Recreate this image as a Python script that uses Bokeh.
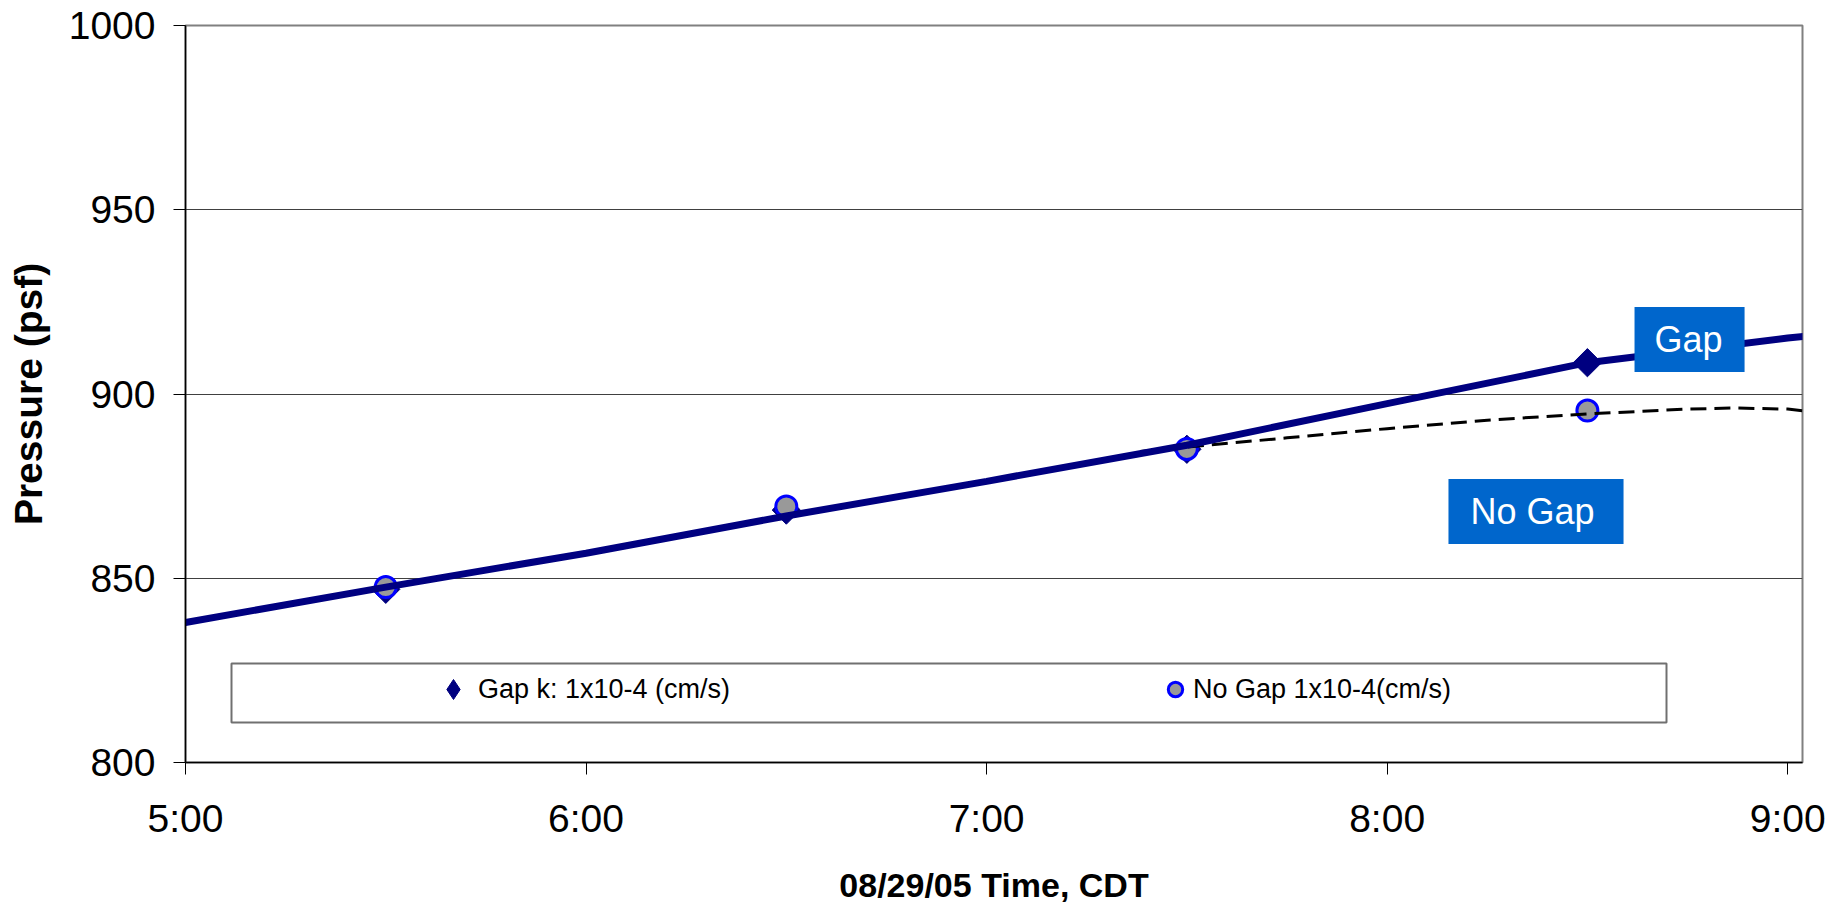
import numpy as np
from bokeh.plotting import figure
from bokeh.models import (FixedTicker, Legend, LegendItem, BoxAnnotation, Label, Range1d)
from bokeh.embed import file_html
from bokeh.resources import INLINE

# ---------------- data ----------------
x_tick_labels = ["5:00", "6:00", "7:00", "8:00", "9:00"]
y_ticks = [800, 850, 900, 950, 1000]

marker_times = ["5:30", "6:30", "7:30", "8:30"]
gap_values = [847.0, 868.5, 885.0, 908.5]          # Gap k: 1x10-4 (cm/s)
nogap_values = [847.6, 869.5, 885.1, 895.5]        # No Gap 1x10-4(cm/s)

gap_curve_times = ["5:00", "5:30", "6:00", "6:30", "7:00", "7:30", "8:00", "8:30", "9:00", "9:02.4"]
gap_curve_values = [838.0, 847.6, 856.8, 866.9, 876.3, 886.1, 897.4, 908.5, 915.2, 915.6]

nogap_curve_times = ["7:23", "7:30", "7:45", "8:00", "8:15", "8:30", "8:45", "8:52", "9:00", "9:02.4"]
nogap_curve_values = [884.4, 885.6, 888.1, 890.6, 892.9, 894.6, 895.9, 896.2, 895.9, 895.4]

series_names = ["Gap k: 1x10-4 (cm/s)", "No Gap 1x10-4(cm/s)"]
callouts = [("Gap", "8:45.3", 914.8), ("No Gap", "8:22.3", 868.1)]
x_title = "08/29/05 Time, CDT"
y_title = "Pressure (psf)"


def hours(t):
    h, m = t.split(":")
    return int(h) + float(m) / 60.0


mx = [hours(t) for t in marker_times]
gx = [hours(t) for t in gap_curve_times]
nx = [hours(t) for t in nogap_curve_times]
xt = [hours(t) for t in x_tick_labels]

FONT = "Liberation Sans"
NAVY = "#000080"

p = figure(width=1840, height=906, output_backend="svg", toolbar_location=None,
           x_range=Range1d(5, 9.037), y_range=Range1d(800, 1000),
           min_border_left=185, min_border_right=38, min_border_top=25, min_border_bottom=142)
p.background_fill_color = "white"
p.border_fill_color = "white"
p.outline_line_color = "#808080"
p.outline_line_width = 2

# axes
p.xaxis.ticker = FixedTicker(ticks=xt)
p.xaxis.major_label_overrides = {int(v): lab for v, lab in zip(xt, x_tick_labels)}
p.yaxis.ticker = FixedTicker(ticks=y_ticks)
for ax in (p.xaxis[0], p.yaxis[0]):
    ax.major_label_text_font = FONT
    ax.major_label_text_font_size = "39px"
    ax.major_label_text_color = "black"
    ax.major_tick_out = 12
    ax.major_tick_in = 0
    ax.minor_tick_out = 0
    ax.minor_tick_in = 0
    ax.major_tick_line_color = "black"
    ax.axis_line_color = "black"
    ax.axis_line_width = 1.5
    ax.axis_label_text_font = FONT
    ax.axis_label_text_font_style = "bold"
    ax.axis_label_text_color = "black"
p.yaxis.major_label_standoff = 18
p.xaxis.major_label_standoff = 22
p.yaxis.axis_label = y_title
p.yaxis.axis_label_text_font_size = "39px"
p.yaxis.axis_label_standoff = 16
p.xaxis.axis_label = x_title
p.xaxis.axis_label_text_font_size = "34px"
p.xaxis.axis_label_standoff = 23

p.xgrid.visible = False
p.ygrid.ticker = FixedTicker(ticks=y_ticks[1:-1])
p.ygrid.grid_line_color = "#404040"
p.ygrid.grid_line_width = 1

# glyphs (order: diamonds, circles, dashed, thick line)
gap_pts = p.scatter(mx, gap_values, marker="square", angle=np.pi / 4, size=20,
                    fill_color=NAVY, line_color=NAVY)
nogap_pts = p.scatter(mx, nogap_values, marker="circle", size=21,
                      fill_color="#999999", line_color="#0000FF", line_width=3)
p.line(nx, nogap_curve_values, line_color="black", line_width=3, line_dash="16 8")
p.line(gx, gap_curve_values, line_color=NAVY, line_width=7)

# hidden renderer that only provides the diamond symbol for the legend
gap_legend_sym = p.scatter(mx, gap_values, marker="diamond", size=20,
                           fill_color=NAVY, line_color=NAVY, visible=False)

# legend frame + legend entries
frame_box = BoxAnnotation(left=46, right=1481, bottom=40, top=99,
                          left_units="screen", right_units="screen",
                          top_units="screen", bottom_units="screen",
                          fill_color="white", fill_alpha=1.0,
                          line_color="#707070", line_width=2, line_alpha=1.0)
p.add_layout(frame_box)

common = dict(orientation="horizontal", padding=0, margin=0, border_line_alpha=0,
              background_fill_alpha=0, label_text_font=FONT, label_text_font_size="27px",
              label_text_color="black", click_policy="none", label_standoff=0)
legend_a = Legend(items=[LegendItem(label=series_names[0], renderers=[gap_legend_sym])],
                  location=(243, 48), glyph_width=50, glyph_height=50, **common)
legend_b = Legend(items=[LegendItem(label=series_names[1], renderers=[nogap_pts])],
                  location=(972, 55), glyph_width=36, glyph_height=36, **common)
p.add_layout(legend_a)
p.add_layout(legend_b)

# callout labels
for txt, t, yv in callouts:
    pad = dict(left=20, right=22, top=12, bottom=12) if txt == "Gap" else dict(left=22, right=29, top=12, bottom=12)
    p.add_layout(Label(x=hours(t), y=yv, text=txt, text_align="center", text_baseline="middle",
                       text_font=FONT, text_font_size="36px", text_color="white",
                       background_fill_color="#0066CC", background_fill_alpha=1.0,
                       padding=pad))

open("out.html", "w").write(file_html(p, INLINE))
